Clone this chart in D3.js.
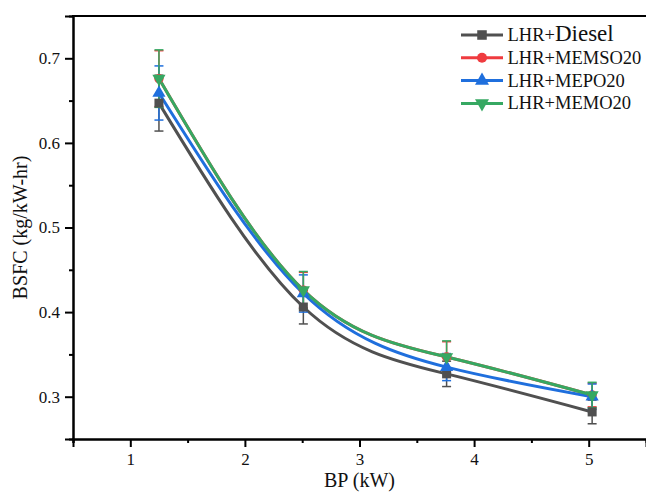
<!DOCTYPE html>
<html>
<head>
<meta charset="utf-8">
<script src="https://cdn.jsdelivr.net/npm/d3@7"></script>
<style>
  body { margin: 0; background: #fff; }
</style>
</head>
<body>
<div id="chart"></div>
<script>
// data
var bp = [1.25, 2.51, 3.76, 5.03];
var names = ["Diesel", "MEMSO20", "MEPO20", "MEMO20"];
var diesel = [0.647, 0.406, 0.327, 0.282];
var memso = [0.676, 0.426, 0.347, 0.302];
var mepo = [0.659, 0.422, 0.335, 0.300];
var memo = [0.676, 0.426, 0.347, 0.302];
var dieselErr = [0.033, 0.020, 0.015, 0.014];
var memsoErr = [0.033, 0.021, 0.018, 0.014];
var mepoErr = [0.032, 0.022, 0.016, 0.015];
var memoErr = [0.034, 0.022, 0.019, 0.015];
var xTicks = [1, 2, 3, 4, 5];
var yTicks = [0.3, 0.4, 0.5, 0.6, 0.7];

var FONT = "'Liberation Serif', 'DejaVu Serif', 'Times New Roman', serif";

var series = [
  { name: names[0], vals: diesel, err: dieselErr, color: "#505050", sym: d3.symbolSquare },
  { name: names[1], vals: memso, err: memsoErr, color: "#ef3b3f", sym: d3.symbolCircle },
  { name: names[2], vals: mepo, err: mepoErr, color: "#1f6fdd", sym: d3.symbolTriangle },
  { name: names[3], vals: memo, err: memoErr, color: "#36a862", sym: "down" }
];

var W = 646, H = 493;
var m = { left: 73, top: 16, right: 0, bottom: 54 };

var svg = d3.select("#chart").append("svg")
  .attr("width", W).attr("height", H)
  .style("font-family", FONT);

var x = d3.scaleLinear().domain([0.5, 5.5]).range([m.left, W - m.right]);
var y = d3.scaleLinear().domain([0.25, 0.75]).range([H - m.bottom, m.top]);

// axes
var xAxis = svg.append("g").attr("transform", "translate(0," + (H - m.bottom) + ")")
  .call(d3.axisBottom(x).tickValues(xTicks).tickFormat(d3.format("d")).tickSize(8).tickPadding(6));
var xMinor = svg.append("g").attr("transform", "translate(0," + (H - m.bottom) + ")")
  .call(d3.axisBottom(x).tickValues([0.5, 1.5, 2.5, 3.5, 4.5]).tickFormat("").tickSize(4));
var yAxis = svg.append("g").attr("transform", "translate(" + m.left + ",0)")
  .call(d3.axisLeft(y).tickValues(yTicks).tickFormat(d3.format(".1f")).tickSize(8).tickPadding(5));
var yMinor = svg.append("g").attr("transform", "translate(" + m.left + ",0)")
  .call(d3.axisLeft(y).tickValues([0.35, 0.45, 0.55, 0.65]).tickFormat("").tickSize(4));

[xAxis, xMinor, yAxis, yMinor].forEach(function (g) {
  g.attr("font-family", FONT);
  g.select(".domain").attr("stroke", "#000").attr("stroke-width", 2);
  g.selectAll(".tick line").attr("stroke", "#000").attr("stroke-width", 2);
  g.selectAll(".tick text").attr("font-size", 17).attr("fill", "#111")
    .attr("font-family", FONT);
});

// top frame line
svg.append("line")
  .attr("x1", m.left - 1).attr("x2", W)
  .attr("y1", y(0.75)).attr("y2", y(0.75))
  .attr("stroke", "#000").attr("stroke-width", 2);

// titles
svg.append("text")
  .attr("x", (x(0.5) + x(5.5)) / 2).attr("y", 487)
  .attr("text-anchor", "middle").attr("font-size", 20)
  .attr("font-family", FONT).attr("fill", "#111")
  .text("BP (kW)");
svg.append("text")
  .attr("transform", "translate(27," + y(0.5) + ") rotate(-90)")
  .attr("text-anchor", "middle").attr("font-size", 20)
  .attr("font-family", FONT).attr("fill", "#111")
  .text("BSFC (kg/kW-hr)");

function symbolPath(s, size) {
  if (s === "down") {
    return d3.symbol().type(d3.symbolTriangle).size(size)();
  }
  return d3.symbol().type(s).size(size)();
}
function symSize(s) {
  if (s === d3.symbolSquare) return 81;
  if (s === d3.symbolCircle) return 70;
  return 75;
}

var line = d3.line()
  .x(function (d) { return x(d[0]); })
  .y(function (d) { return y(d[1]); })
  .curve(d3.curveNatural);

var plot = svg.append("g");

// lines
series.forEach(function (s) {
  var pts = bp.map(function (b, i) { return [b, s.vals[i]]; });
  plot.append("path")
    .attr("d", line(pts))
    .attr("fill", "none")
    .attr("stroke", s.color)
    .attr("stroke-width", 3);
});

// error bars
series.forEach(function (s) {
  bp.forEach(function (b, i) {
    var cx = x(b), y1 = y(s.vals[i] + s.err[i]), y2 = y(s.vals[i] - s.err[i]);
    plot.append("line").attr("x1", cx).attr("x2", cx).attr("y1", y1).attr("y2", y2)
      .attr("stroke", s.color).attr("stroke-width", 1.5);
    [y1, y2].forEach(function (yy) {
      plot.append("line").attr("x1", cx - 4.5).attr("x2", cx + 4.5).attr("y1", yy).attr("y2", yy)
        .attr("stroke", s.color).attr("stroke-width", 1.5);
    });
  });
});

// markers
series.forEach(function (s) {
  plot.selectAll(null).data(bp).enter().append("path")
    .attr("d", symbolPath(s.sym, symSize(s.sym)))
    .attr("transform", function (b, i) {
      var t = "translate(" + x(b) + "," + y(s.vals[i]) + ")";
      return s.sym === "down" ? t + " rotate(180)" : t;
    })
    .attr("fill", s.color);
});

// legend
var leg = svg.append("g").attr("transform", "translate(461,35)");
series.forEach(function (s, i) {
  var g = leg.append("g").attr("transform", "translate(0," + (i * 22.8) + ")");
  g.append("line").attr("x1", 0).attr("x2", 42).attr("y1", 0).attr("y2", 0)
    .attr("stroke", s.color).attr("stroke-width", 3);
  g.append("path")
    .attr("d", symbolPath(s.sym, symSize(s.sym) + 10))
    .attr("transform", "translate(21,0)" + (s.sym === "down" ? " rotate(180)" : ""))
    .attr("fill", s.color);
  var t = g.append("text").attr("x", 46.5).attr("y", 6).attr("font-size", 18.5)
    .attr("font-family", FONT).attr("fill", "#111");
  t.append("tspan").text("LHR+");
  t.append("tspan").attr("font-size", i === 0 ? 23 : 18.5).text(s.name);
});
</script>
</body>
</html>
